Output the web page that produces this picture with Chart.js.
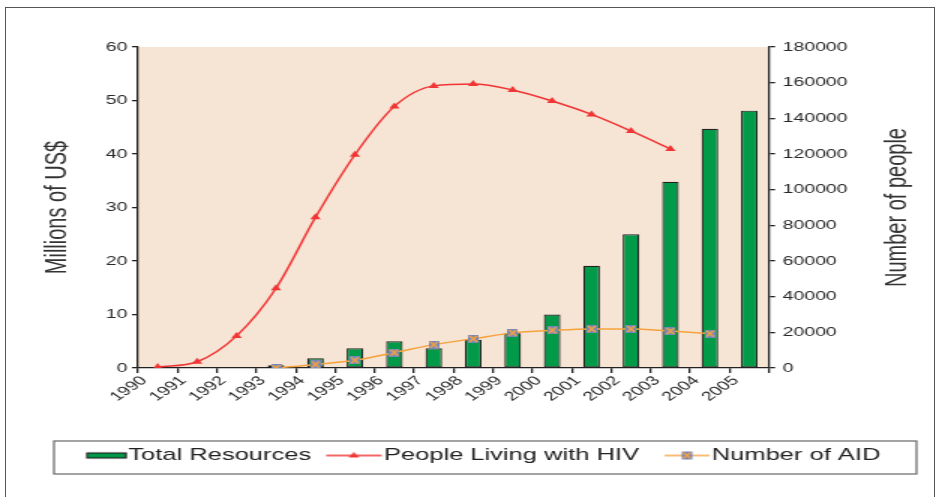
<!DOCTYPE html>
<html>
<head>
<meta charset="utf-8">
<script src="https://cdn.jsdelivr.net/npm/chart.js@4.4.1/dist/chart.umd.min.js"></script>
<style>
    html, body { margin: 0; padding: 0; background: #fff; overflow: hidden; }
    #frame { position: absolute; left: 5px; top: 7px; width: 930px; height: 500px; border: 1.5px solid #555; box-sizing: border-box; }
    /* the source picture is stretched sideways, so the chart is drawn narrow and widened */
    #wrap { position: absolute; left: 0; top: 0; width: 630px; height: 497px; transform: scaleX(1.5); transform-origin: 0 0; }
</style>
</head>
<body>
<div id="frame"></div>
<div id="wrap"><canvas id="chart"></canvas></div>
<script>
// Data
const years = ['1990', '1991', '1992', '1993', '1994', '1995', '1996', '1997',
               '1998', '1999', '2000', '2001', '2002', '2003', '2004', '2005'];
const totalResources = [null, null, null, 0.5, 1.8, 3.7, 5.0, 3.7, 5.3, 6.5, 10.0, 19.1, 25.0, 34.8, 44.7, 48.1];
const peopleWithHIV = [500, 3500, 18000, 44700, 84500, 119600, 146700, 158200, 159200, 155900,
                       149700, 142200, 132900, 122800, null, null];
const aidsCases = [null, null, null, 0, 2000, 4300, 8600, 13100, 16400, 19700, 21100, 21900, 21900, 20700, 19300, null];
const leftTicks = [0, 10, 20, 30, 40, 50, 60];
const rightTicks = [0, 20000, 40000, 60000, 80000, 100000, 120000, 140000, 160000, 180000];

const GREEN = '#009a48';
const RED = '#f03535';
const ORANGE = '#f6a33c';
const BLUE = '#7186c4';
const INK = '#222';
const TITLE_FONT = '20px "Liberation Sans", Arial, sans-serif';

Chart.defaults.font.family = '"Liberation Sans", Arial, sans-serif';
Chart.defaults.color = '#2a2a2a';

function makeCanvas(w, h, draw) {
    const c = document.createElement('canvas');
    c.width = w;
    c.height = h;
    draw(c.getContext('2d'));
    return c;
}

function drawAidMark(ctx, x, y) {
    ctx.fillStyle = BLUE;
    ctx.fillRect(x, y, 7, 8);
    ctx.strokeStyle = ORANGE;
    ctx.lineWidth = 1.6;
    ctx.beginPath();
    ctx.moveTo(x + 1, y + 1); ctx.lineTo(x + 6, y + 7);
    ctx.moveTo(x + 6, y + 1); ctx.lineTo(x + 1, y + 7);
    ctx.stroke();
}

const aidMarker = makeCanvas(7, 8, ctx => drawAidMark(ctx, 0, 0));

// legend symbols, drawn against the right edge so they sit next to the text
const legendIcons = [
    makeCanvas(50, 10, ctx => {
        ctx.fillStyle = GREEN;
        ctx.fillRect(23, 2.5, 26, 5);
        ctx.strokeStyle = INK;
        ctx.lineWidth = 1.2;
        ctx.strokeRect(23, 2.5, 26, 5);
    }),
    makeCanvas(50, 10, ctx => {
        ctx.strokeStyle = RED;
        ctx.lineWidth = 1.4;
        ctx.beginPath(); ctx.moveTo(12, 5); ctx.lineTo(49, 5); ctx.stroke();
        ctx.fillStyle = RED;
        ctx.beginPath(); ctx.moveTo(30.5, 1.5); ctx.lineTo(34, 7); ctx.lineTo(27, 7); ctx.closePath(); ctx.fill();
    }),
    makeCanvas(50, 10, ctx => {
        ctx.strokeStyle = ORANGE;
        ctx.lineWidth = 1.4;
        ctx.beginPath(); ctx.moveTo(19, 5); ctx.lineTo(49, 5); ctx.stroke();
        drawAidMark(ctx, 30.5, 1);
    })
];

const plotBg = {
    id: 'plotBg',
    beforeDraw(chart) {
        const { ctx, chartArea: a } = chart;
        ctx.save();
        ctx.fillStyle = '#f6e4d4';
        ctx.fillRect(a.left, a.top, a.right - a.left, a.bottom - a.top);
        ctx.restore();
    }
};

// legend frame plus the right axis title, which reads bottom to top like the left one
const extras = {
    id: 'extras',
    afterDraw(chart) {
        const { ctx, legend, chartArea: a } = chart;
        ctx.save();
        ctx.strokeStyle = '#666';
        ctx.lineWidth = 1.2;
        ctx.strokeRect(36, legend.top, 575, legend.height);

        ctx.translate(598, (a.top + a.bottom) / 2);
        ctx.rotate(-Math.PI / 2);
        ctx.font = TITLE_FONT;
        ctx.fillStyle = '#333';
        ctx.textAlign = 'center';
        ctx.textBaseline = 'middle';
        ctx.fillText('Number of people', 0, 0);
        ctx.restore();
    }
};

const axisLine = { display: true, color: INK, width: 1.3 };
const tickGrid = { drawOnChartArea: false, color: INK, lineWidth: 1.3, tickLength: 4 };

new Chart(document.getElementById('chart'), {
    data: {
        labels: years,
        datasets: [
            {
                type: 'bar',
                label: 'Total Resources',
                data: totalResources,
                yAxisID: 'y',
                backgroundColor: GREEN,
                borderColor: INK,
                borderWidth: 1.2,
                borderSkipped: false,
                barPercentage: 0.42,
                categoryPercentage: 1,
                order: 3
            },
            {
                type: 'line',
                label: 'People Living with HIV',
                data: peopleWithHIV,
                yAxisID: 'y1',
                borderColor: RED,
                backgroundColor: RED,
                borderWidth: 1.5,
                pointStyle: 'triangle',
                pointRadius: 4,
                pointBorderWidth: 0,
                cubicInterpolationMode: 'monotone',
                order: 1
            },
            {
                type: 'line',
                label: 'Number of AID',
                data: aidsCases,
                yAxisID: 'y1',
                borderColor: ORANGE,
                backgroundColor: ORANGE,
                borderWidth: 1.5,
                pointStyle: aidMarker,
                cubicInterpolationMode: 'monotone',
                order: 2
            }
        ]
    },
    options: {
        responsive: true,
        maintainAspectRatio: false,
        animation: false,
        layout: { padding: { top: 47, bottom: 23, left: 0, right: 0 } },
        plugins: {
            tooltip: { enabled: false },
            legend: {
                position: 'bottom',
                labels: {
                    usePointStyle: true,
                    pointStyleWidth: 34,
                    padding: 6,
                    color: '#222',
                    font: { size: 17 },
                    sort: (a, b) => a.datasetIndex - b.datasetIndex,
                    generateLabels(chart) {
                        const items = Chart.defaults.plugins.legend.labels.generateLabels(chart);
                        items.forEach(item => { item.pointStyle = legendIcons[item.datasetIndex]; });
                        return items;
                    }
                }
            }
        },
        scales: {
            x: {
                offset: true,
                grid: { ...tickGrid, offset: true, tickLength: 5 },
                border: axisLine,
                ticks: { font: { size: 13 }, autoSkip: false, minRotation: 45, maxRotation: 45, labelOffset: -9, padding: 0 },
                afterFit(scale) { scale.height = 73; }
            },
            y: {
                position: 'left',
                min: 0,
                max: 60,
                afterBuildTicks(scale) { scale.ticks = leftTicks.map(v => ({ value: v })); },
                grid: tickGrid,
                border: axisLine,
                ticks: { font: { size: 13 }, padding: 3 },
                title: { display: true, text: 'Millions of US$', font: { size: 20 }, color: '#333', padding: { top: 26.7, bottom: 0 } },
                afterFit(scale) { scale.width = 92; }
            },
            y1: {
                position: 'right',
                min: 0,
                max: 180000,
                afterBuildTicks(scale) { scale.ticks = rightTicks.map(v => ({ value: v })); },
                grid: tickGrid,
                border: axisLine,
                ticks: { font: { size: 13 }, padding: 5, callback: v => String(v) },
                afterFit(scale) { scale.width = 117.3; }
            }
        }
    },
    plugins: [plotBg, extras]
});
</script>
</body>
</html>
